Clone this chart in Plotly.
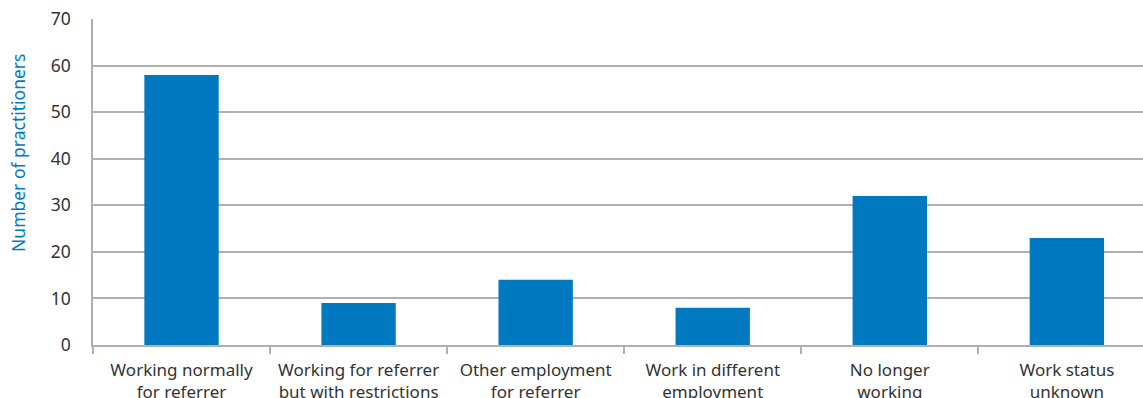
import plotly.graph_objects as go

categories = ["Working normally<br>for referrer", "Working for referrer<br>but with restrictions",
              "Other employment<br>for referrer", "Work in different<br>employment",
              "No longer<br>working", "Work status<br>unknown"]
values = [58, 9, 14, 8, 32, 23]
y_ticks = [0, 10, 20, 30, 40, 50, 60, 70]
y_title = "Number of practitioners"

fig = go.Figure(go.Bar(x=categories, y=values, marker_color="#0079c1", width=0.42,
                       marker_line_width=0, hoverinfo="skip"))
fig.update_layout(
    width=1143, height=398,
    margin=dict(l=93, r=0, t=19, b=53),
    plot_bgcolor="white", paper_bgcolor="white",
    font=dict(family="Noto Sans", size=17, color="#333333"),
    showlegend=False,
)
fig.update_xaxes(range=[-0.5, 5.43], showline=True, linecolor="#b0b0b0", linewidth=1.5,
                 ticks="outside", tickson="boundaries", ticklen=7, tickcolor="#b0b0b0",
                 tickwidth=1.5, tickfont=dict(size=17, color="#333333"), ticklabelstandoff=9,
                 automargin=False)
fig.update_yaxes(range=[0, 70], tickvals=y_ticks, showgrid=True, gridcolor="#b0b0b0",
                 gridwidth=1.5, showline=True, linecolor="#b0b0b0", linewidth=1.5,
                 zeroline=False, ticks="", tickfont=dict(size=17.5, color="#333333"),
                 ticklabelstandoff=17, automargin=False)
fig.add_annotation(text=y_title, xref="paper", yref="paper", x=0, xshift=-75,
                   y=0.589, xanchor="center", yanchor="middle", textangle=-90,
                   showarrow=False, font=dict(size=17.5, color="#0079c1"))
fig.write_html("out.html", post_script="document.body.style.margin='0';",
               config={"displayModeBar": False})
